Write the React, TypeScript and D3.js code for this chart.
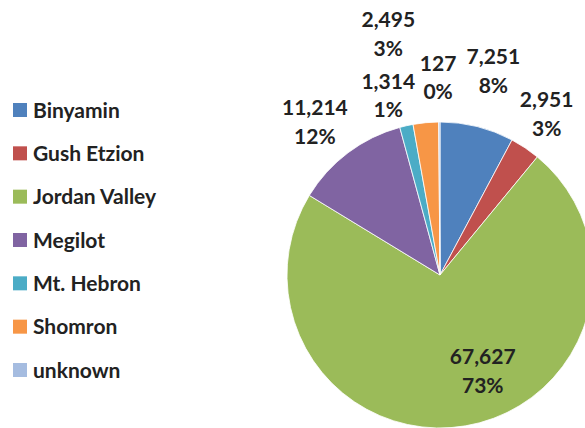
import React, {useEffect, useRef} from 'react';
import * as d3 from 'd3';

const regions = ['Binyamin', 'Gush Etzion', 'Jordan Valley', 'Megilot', 'Mt. Hebron', 'Shomron', 'unknown'];
const counts = [7251, 2951, 67627, 11214, 1314, 2495, 127];
const colors = ['#4F81BD', '#C0504D', '#9BBB59', '#8064A2', '#4BACC6', '#F79646', '#A5BCE0'];

// label placement relative to the slice mid-angle (radius factor, degree nudge)
const labelRadius = [1.38, 1.26, 0.69, 1.29, 1.22, 1.61, 1.29];
const labelNudge = [0.6, -0.2, -14.3, -2.4, -3.4, -6.8, -0.3];

const W = 585;
const H = 428;

export default function App() {
  const svgRef = useRef<SVGSVGElement>(null);

  useEffect(() => {
    if (!svgRef.current) return;
    const svg = d3.select(svgRef.current);
    svg.selectAll('*').remove();

    const font = 'Lato, "Open Sans", sans-serif';
    const cx = 440;
    const cy = 275;
    const r = 153;

    const total = d3.sum(counts);
    const data = regions.map((name, i) => ({name, value: counts[i], i}));

    const pie = d3
      .pie<any>()
      .sort(null)
      .value((d) => d.value);
    const arcs = pie(data);
    const arc = d3.arc<any>().innerRadius(0).outerRadius(r);

    const g = svg.append('g').attr('transform', `translate(${cx},${cy})`);

    g.selectAll('path')
      .data(arcs)
      .join('path')
      .attr('d', arc)
      .attr('fill', (d) => colors[d.data.i])
      .attr('stroke', '#fff')
      .attr('stroke-width', 0.8);

    const fmt = d3.format(',');
    const pct = d3.format('.0%');

    const labels = g
      .selectAll('text.lbl')
      .data(arcs)
      .join('text')
      .attr('class', 'lbl')
      .attr('text-anchor', 'middle')
      .style('font-family', font)
      .style('font-weight', 700)
      .style('font-size', '21px')
      .attr('fill', '#222')
      .attr('transform', (d) => {
        const i = d.data.i;
        const mid = (d.startAngle + d.endAngle) / 2 + (labelNudge[i] * Math.PI) / 180;
        const lr = r * labelRadius[i];
        const c = d3
          .arc<any>()
          .innerRadius(lr)
          .outerRadius(lr)
          .centroid({startAngle: mid, endAngle: mid});
        return `translate(${c[0]},${c[1]})`;
      });

    labels
      .append('tspan')
      .attr('x', 0)
      .attr('dy', '-0.34em')
      .text((d) => fmt(d.data.value));
    labels
      .append('tspan')
      .attr('x', 0)
      .attr('dy', '1.38em')
      .text((d) => pct(d.data.value / total));

    // legend
    const legendY = d3
      .scalePoint<string>()
      .domain(regions)
      .range([110, 370]);

    const legend = svg
      .append('g')
      .selectAll('g')
      .data(regions)
      .join('g')
      .attr('transform', (d) => `translate(13,${legendY(d)})`);

    legend
      .append('rect')
      .attr('x', 0)
      .attr('y', -7)
      .attr('width', 14)
      .attr('height', 14)
      .attr('fill', (d, i) => colors[i]);

    legend
      .append('text')
      .attr('x', 20)
      .attr('dy', '0.36em')
      .style('font-family', font)
      .style('font-weight', 700)
      .style('font-size', '21px')
      .attr('fill', '#222')
      .text((d) => d);
  }, []);

  return (
    <svg
      ref={svgRef}
      width={W}
      height={H}
      style={{position: 'absolute', left: 0, top: 0, display: 'block', background: '#fff'}}
    />
  );
}
